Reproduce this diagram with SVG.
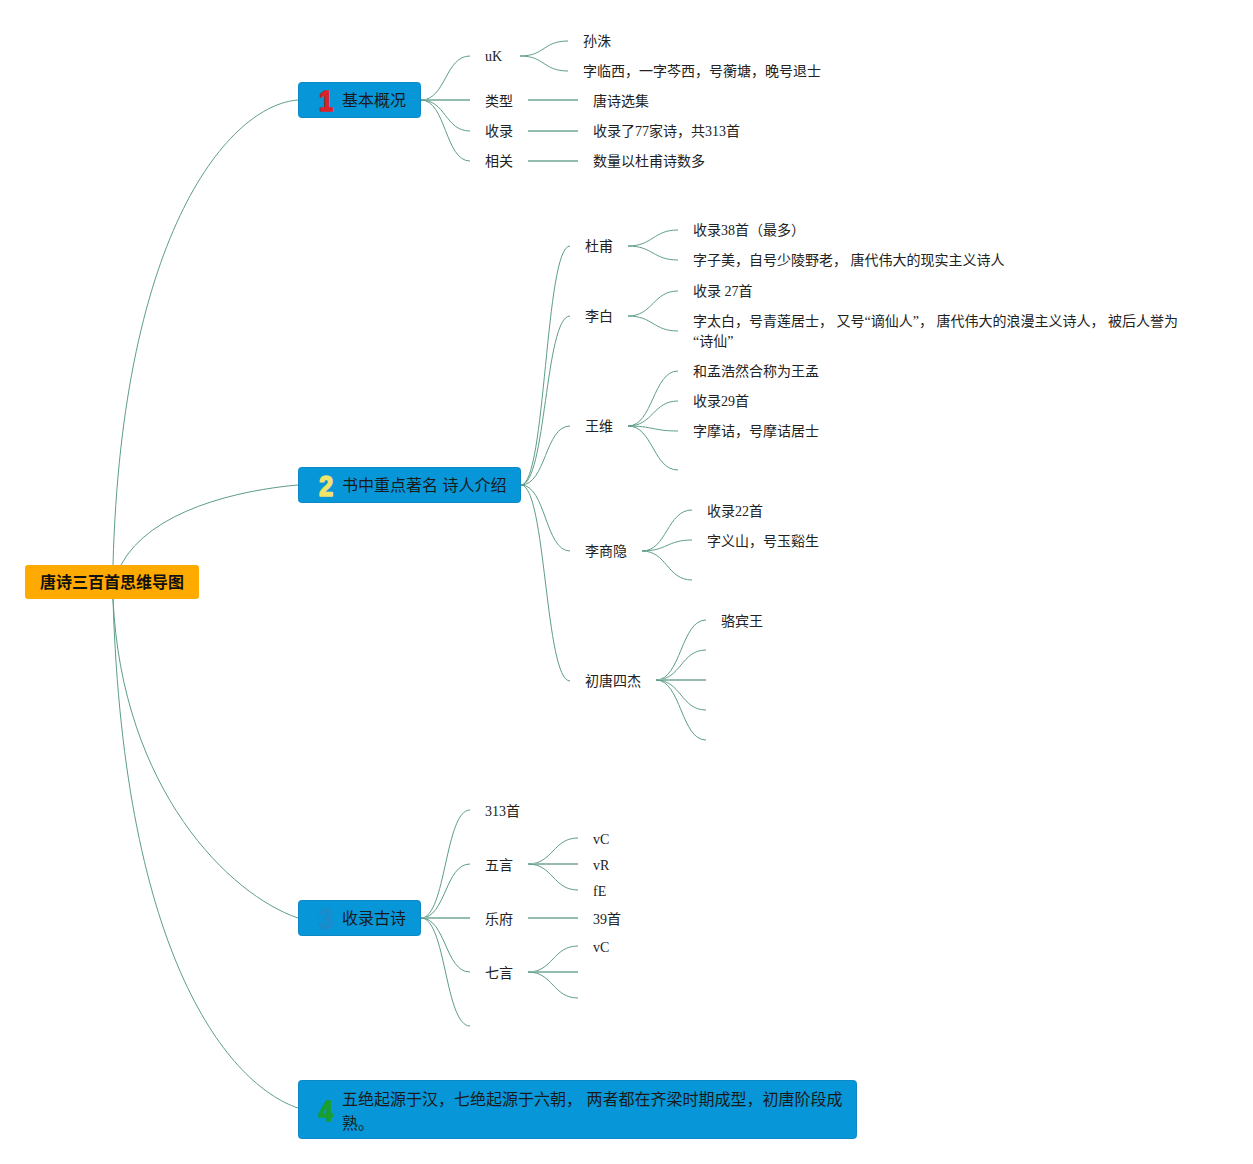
<svg xmlns="http://www.w3.org/2000/svg" width="1253" height="1164" viewBox="0 0 1253 1164">
<style>
.t{font-family:"Liberation Serif","Noto Sans CJK SC",serif;font-size:14px;fill:#222}
.m{font-family:"Liberation Sans","Noto Sans CJK SC",sans-serif;font-size:16px;fill:#1a1a1a}
.r{font-family:"Liberation Sans","Noto Sans CJK SC",sans-serif;font-size:16px;font-weight:bold;fill:#111}
.ic{font-family:"Liberation Sans","Noto Sans CJK SC",sans-serif;font-size:30px;font-weight:bold;stroke-width:1.6;stroke-linejoin:round}
.box{fill:#0796d8;stroke:#0a89c4;stroke-width:1}
.c{fill:none;stroke:#5e9d89;stroke-width:1}
.s{fill:none;stroke:#94bdae;stroke-width:2}
</style>
<rect width="1253" height="1164" fill="#ffffff"/>
<g id="connectors">
<path class="c" d="M113,565 C122,230 230,105 298,100"/>
<path class="c" d="M121,565 C150,510 240,490 298,485"/>
<path class="c" d="M113,599 C122,790 230,895 298,918"/>
<path class="c" d="M113,599 C124,960 230,1085 298,1108"/>
<path class="c" d="M421,100 C446,100 445,56 470,56"/>
<path class="s" d="M421,100 H470"/>
<path class="c" d="M421,100 C446,100 445,131 470,131"/>
<path class="c" d="M421,100 C446,100 445,161 470,161"/>
<path class="c" d="M520,56 C545,56 543,41 568,41"/>
<path class="c" d="M520,56 C545,56 543,71 568,71"/>
<path class="s" d="M528,100 H578"/>
<path class="s" d="M528,131 H578"/>
<path class="s" d="M528,161 H578"/>
<path class="c" d="M521,485 C546,485 545,246 570,246"/>
<path class="c" d="M521,485 C546,485 545,316 570,316"/>
<path class="c" d="M521,485 C546,485 545,426 570,426"/>
<path class="c" d="M521,485 C546,485 545,551 570,551"/>
<path class="c" d="M521,485 C546,485 545,681 570,681"/>
<path class="c" d="M628,246 C653,246 653,230 678,230"/>
<path class="c" d="M628,246 C653,246 653,260 678,260"/>
<path class="c" d="M628,316 C653,316 653,291 678,291"/>
<path class="c" d="M628,316 C653,316 653,331 678,331"/>
<path class="c" d="M628,426 C653,426 653,371 678,371"/>
<path class="c" d="M628,426 C653,426 653,401 678,401"/>
<path class="c" d="M628,426 C653,426 653,431 678,431"/>
<path class="c" d="M628,426 C653,426 653,470 678,470"/>
<path class="c" d="M642,551 C667,551 667,510 692,510"/>
<path class="c" d="M642,551 C667,551 667,540 692,540"/>
<path class="c" d="M642,551 C667,551 667,580 692,580"/>
<path class="c" d="M656,680 C681,680 681,620 706,620"/>
<path class="c" d="M656,680 C681,680 681,650 706,650"/>
<path class="s" d="M656,680 H706"/>
<path class="c" d="M656,680 C681,680 681,710 706,710"/>
<path class="c" d="M656,680 C681,680 681,740 706,740"/>
<path class="c" d="M421,918 C446,918 445,810 470,810"/>
<path class="c" d="M421,918 C446,918 445,864 470,864"/>
<path class="s" d="M421,918 H470"/>
<path class="c" d="M421,918 C446,918 445,972 470,972"/>
<path class="c" d="M421,918 C446,918 445,1026 470,1026"/>
<path class="c" d="M528,864 C553,864 553,838 578,838"/>
<path class="s" d="M528,864 H578"/>
<path class="c" d="M528,864 C553,864 553,890 578,890"/>
<path class="s" d="M528,918 H578"/>
<path class="c" d="M528,972 C553,972 553,946 578,946"/>
<path class="s" d="M528,972 H578"/>
<path class="c" d="M528,972 C553,972 553,998 578,998"/>
</g>
<g id="root">
<rect x="25" y="565" width="174" height="34" rx="3" fill="#ffaa00"/>
<text class="r" x="112" y="588" text-anchor="middle">唐诗三百首思维导图</text>
</g>
<g id="n1">
<rect class="box" x="298.5" y="82.5" width="122" height="35" rx="3"/>
<text class="ic" transform="translate(326 111) scale(0.85 1)" text-anchor="middle" fill="#d8232a" stroke="#d8232a">1</text>
<text class="m" x="342" y="106">基本概况</text>
</g>
<g id="n1-children">
<text class="t" x="485" y="61">uK</text>
<text class="t" x="583" y="46">孙洙</text>
<text class="t" x="583" y="76">字临西，一字芩西，号蘅塘，晚号退士</text>
<text class="t" x="485" y="106">类型</text>
<text class="t" x="593" y="106">唐诗选集</text>
<text class="t" x="485" y="136">收录</text>
<text class="t" x="593" y="136">收录了77家诗，共313首</text>
<text class="t" x="485" y="166">相关</text>
<text class="t" x="593" y="166">数量以杜甫诗数多</text>
</g>
<g id="n2">
<rect class="box" x="298.5" y="467.5" width="222" height="35" rx="3"/>
<text class="ic" transform="translate(326 496) scale(0.85 1)" text-anchor="middle" fill="#f2e36a" stroke="#f2e36a">2</text>
<text class="m" x="342" y="491">书中重点著名 诗人介绍</text>
</g>
<g id="n2-children">
<text class="t" x="585" y="251">杜甫</text>
<text class="t" x="693" y="235">收录38首（最多）</text>
<text class="t" x="693" y="265">字子美，自号少陵野老， 唐代伟大的现实主义诗人</text>
<text class="t" x="585" y="321">李白</text>
<text class="t" x="693" y="296">收录 27首</text>
<text class="t" x="693" y="326">字太白，号青莲居士， 又号“谪仙人”， 唐代伟大的浪漫主义诗人， 被后人誉为</text>
<text class="t" x="693" y="346">“诗仙”</text>
<text class="t" x="585" y="431">王维</text>
<text class="t" x="693" y="376">和孟浩然合称为王孟</text>
<text class="t" x="693" y="406">收录29首</text>
<text class="t" x="693" y="436">字摩诘，号摩诘居士</text>
<text class="t" x="585" y="556">李商隐</text>
<text class="t" x="707" y="516">收录22首</text>
<text class="t" x="707" y="546">字义山，号玉谿生</text>
<text class="t" x="585" y="686">初唐四杰</text>
<text class="t" x="721" y="626">骆宾王</text>
</g>
<g id="n3">
<rect class="box" x="298.5" y="900.5" width="122" height="35" rx="3"/>
<text class="ic" transform="translate(326 929) scale(0.85 1)" text-anchor="middle" fill="#1a8ccc" stroke="#1a8ccc">3</text>
<text class="m" x="342" y="924">收录古诗</text>
</g>
<g id="n3-children">
<text class="t" x="485" y="816">313首</text>
<text class="t" x="485" y="870">五言</text>
<text class="t" x="593" y="844">vC</text>
<text class="t" x="593" y="870">vR</text>
<text class="t" x="593" y="896">fE</text>
<text class="t" x="485" y="924">乐府</text>
<text class="t" x="593" y="924">39首</text>
<text class="t" x="485" y="978">七言</text>
<text class="t" x="593" y="952">vC</text>
</g>
<g id="n4">
<rect class="box" x="298.5" y="1080.5" width="558" height="58" rx="3"/>
<text class="ic" transform="translate(326 1121) scale(0.85 1)" text-anchor="middle" fill="#1a9e30" stroke="#1a9e30">4</text>
<text class="m" x="342" y="1105">五绝起源于汉，七绝起源于六朝， 两者都在齐梁时期成型，初唐阶段成</text>
<text class="m" x="342" y="1129">熟。</text>
</g>
</svg>
